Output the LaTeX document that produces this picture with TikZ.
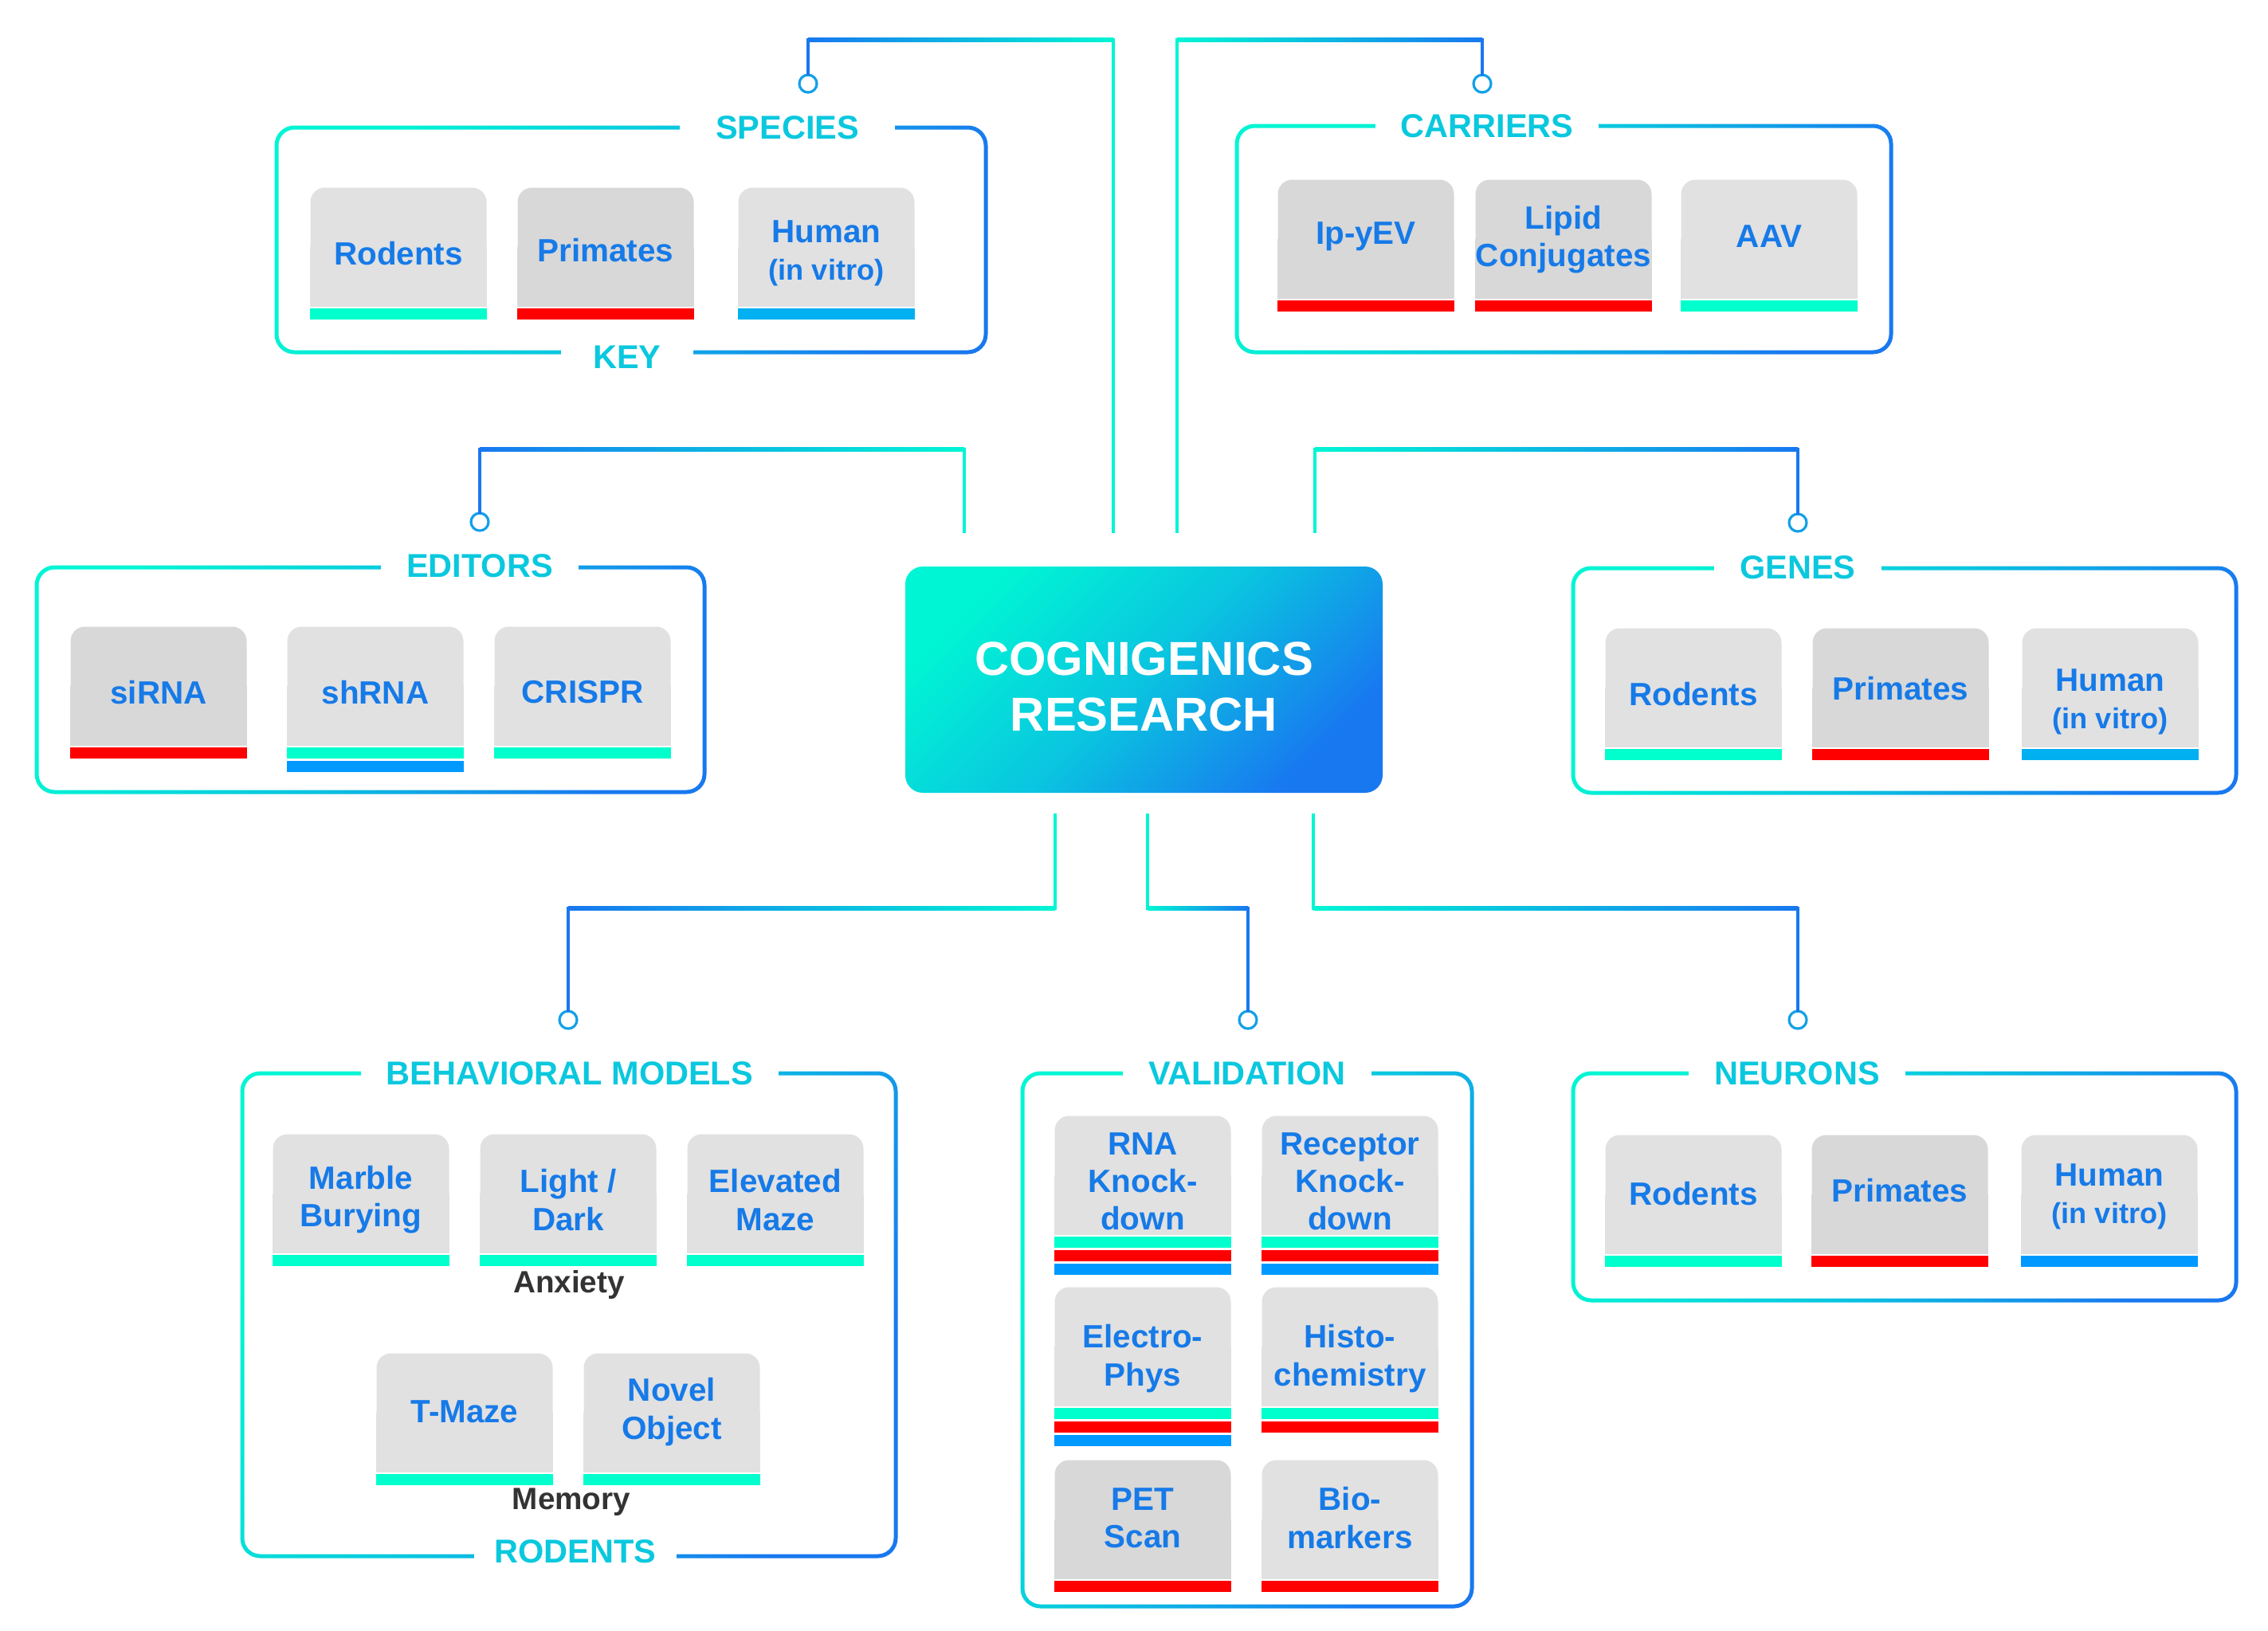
\documentclass[tikz,border=0pt]{standalone}
\usepackage{fontspec}
\setmainfont{Liberation Sans}
\usepackage{xcolor}

\definecolor{cgteal}{RGB}{0,245,212}
\definecolor{cgblue}{RGB}{24,120,240}
\definecolor{cgcyan}{RGB}{10,196,224}
\definecolor{cgring}{RGB}{18,160,232}
\definecolor{cgink}{RGB}{22,122,232}
\definecolor{cgtitle}{RGB}{10,200,222}
\definecolor{cgnote}{RGB}{51,51,51}
\definecolor{tilelight}{RGB}{225,225,225}
\definecolor{tiledark}{RGB}{216,216,216}
\definecolor{barrod}{RGB}{0,255,204}
\definecolor{barpri}{RGB}{255,0,0}
\definecolor{barhum}{RGB}{0,176,240}
\definecolor{barvit}{RGB}{0,153,255}

\tikzset{
  hub/.style={rounded corners=0.22cm, minimum width=5.99cm, minimum height=2.84cm,
    top color=cgteal, bottom color=cgblue, middle color=cgcyan, shading angle=45},
  hubtext/.style={text=white, align=center, font=\fontsize{17}{20}\selectfont\bfseries},
  tile/.style={rounded corners=0.18cm, minimum width=2.21cm, minimum height=1.49cm, inner sep=0pt},
  tiletext/.style={inner sep=0pt, text=cgink, align=center, font=\fontsize{11.5}{13.4}\selectfont\bfseries},
  boxtitle/.style={fill=white, text=cgtitle, inner xsep=0.32cm, inner ysep=2pt,
    font=\fontsize{11.8}{14}\selectfont\bfseries},
  note/.style={text=cgnote, font=\fontsize{11}{13}\selectfont\bfseries},
  knob/.style={circle, draw=cgring, fill=white, line width=0.9pt, minimum size=0.22cm, inner sep=0pt},
  wire/.style={line width=1.3pt, line cap=rect}
}

% grey card, square bottom corners; optional #1 moves the label
\newcommand{\cgtile}[5][-0.08cm]{%
  \node[tile, fill=#4] (#2) at (#3) {};
  \fill[#4] (#2.south west) rectangle (#2.east);
  \node[tiletext] (#2txt) at ([yshift=#1]#2.center) {#5};}

% coloured bar under a card, #2 = row (0,1,2)
\newcommand{\cgstripe}[3]{%
  \fill[#3] ([yshift={-0.02cm-#2*0.17cm}]#1.south west) rectangle ([yshift={-0.16cm-#2*0.17cm}]#1.south east);}

% rounded frame with a shaded outline
\newcommand{\groupframe}[4]{%
  \shade[even odd rule, top color=cgteal, bottom color=cgblue, middle color=cgcyan, shading angle=60]
    [rounded corners=0.25cm] (#1-0.025,#2+0.025) rectangle (#3+0.025,#4-0.025)
    [rounded corners=0.2cm] (#1+0.025,#2-0.025) rectangle (#3-0.025,#4+0.025);}

% hub -> knee -> knee -> knob
\newcommand{\cgwire}[6]{%
  \draw[wire, cgteal] (#1) -- (#2);
  \shade[left color=#5, right color=#6] ([yshift=0.65pt]#2) rectangle ([yshift=-0.65pt]#3);
  \draw[wire, cgblue] (#3) -- (#4.north);}

\begin{document}
\begin{tikzpicture}
\useasboundingbox (0,0) rectangle (28.46,-20.46);

% frames
\groupframe{3.47}{-1.60}{12.37}{-4.42}
\groupframe{15.52}{-1.58}{23.73}{-4.42}
\groupframe{0.46}{-7.12}{8.84}{-9.94}
\groupframe{19.74}{-7.13}{28.06}{-9.95}
\groupframe{3.04}{-13.47}{11.24}{-19.53}
\groupframe{12.83}{-13.47}{18.47}{-20.16}
\groupframe{19.74}{-13.47}{28.06}{-16.32}

\node[boxtitle, inner xsep=0.45cm] (species) at (9.88,-1.60) {SPECIES};
\node[boxtitle, inner xsep=0.40cm] (key) at (7.87,-4.48) {KEY};
\node[boxtitle] (carriers) at (18.66,-1.58) {CARRIERS};
\node[boxtitle] (editors) at (6.02,-7.10) {EDITORS};
\node[boxtitle] (genes) at (22.56,-7.12) {GENES};
\node[boxtitle] (behav) at (7.15,-13.47) {BEHAVIORAL MODELS};
\node[boxtitle, inner xsep=0.26cm] (rodents) at (7.22,-19.47) {RODENTS};
\node[boxtitle] (valid) at (15.65,-13.47) {VALIDATION};
\node[boxtitle] (neurons) at (22.55,-13.47) {NEURONS};

% species
\cgtile{spRod}{5.00,-3.10}{tilelight}{Rodents}
\cgtile[-0.04cm]{spPri}{7.60,-3.10}{tiledark}{Primates}
\cgtile{spHum}{10.37,-3.10}{tilelight}{Human\\{\fontsize{10.3}{13.4}\selectfont (in vitro)}}
\cgstripe{spRod}{0}{barrod}
\cgstripe{spPri}{0}{barpri}
\cgstripe{spHum}{0}{barhum}

% carriers
\cgtile[0.03cm]{caIp}{17.14,-3.00}{tiledark}{Ip-yEV}
\cgtile[-0.01cm]{caLip}{19.62,-3.00}{tiledark}{Lipid\\Conjugates}
\cgtile[0.03cm]{caAav}{22.20,-3.00}{tilelight}{AAV}
\cgstripe{caIp}{0}{barpri}
\cgstripe{caLip}{0}{barpri}
\cgstripe{caAav}{0}{barrod}

% editors
\cgtile{edSi}{1.99,-8.61}{tiledark}{siRNA}
\cgtile{edSh}{4.71,-8.61}{tilelight}{shRNA}
\cgtile{edCr}{7.31,-8.61}{tilelight}{CRISPR}
\cgstripe{edSi}{0}{barpri}
\cgstripe{edSh}{0}{barrod}
\cgstripe{edSh}{1}{barvit}
\cgstripe{edCr}{0}{barrod}

% genes
\cgtile{geRod}{21.25,-8.63}{tilelight}{Rodents}
\cgtile[-0.01cm]{gePri}{23.85,-8.63}{tiledark}{Primates}
\cgtile[-0.18cm]{geHum}{26.48,-8.63}{tilelight}{Human\\{\fontsize{10.3}{13.4}\selectfont (in vitro)}}
\cgstripe{geRod}{0}{barrod}
\cgstripe{gePri}{0}{barpri}
\cgstripe{geHum}{0}{barhum}

% behavioral models
\cgtile{beMar}{4.53,-14.98}{tilelight}{Marble\\Burying}
\cgtile{beLig}{7.13,-14.98}{tilelight}{Light /\\Dark}
\cgtile{beEle}{9.73,-14.98}{tilelight}{Elevated\\Maze}
\cgtile[0.01cm]{beTm}{5.83,-17.73}{tilelight}{T-Maze}
\cgtile[0.01cm]{beNov}{8.43,-17.73}{tilelight}{Novel\\Object}
\cgstripe{beMar}{0}{barrod}
\cgstripe{beLig}{0}{barrod}
\cgstripe{beEle}{0}{barrod}
\cgstripe{beTm}{0}{barrod}
\cgstripe{beNov}{0}{barrod}
\node[note] (anxiety) at (7.14,-16.12) {Anxiety};
\node[note] (memory) at (7.17,-18.85) {Memory};

% validation
\cgtile{vaRna}{14.34,-14.75}{tilelight}{RNA\\Knock-\\down}
\cgtile{vaRec}{16.94,-14.75}{tilelight}{Receptor\\Knock-\\down}
\cgtile[-0.15cm]{vaEle}{14.34,-16.90}{tilelight}{Electro-\\Phys}
\cgtile[-0.15cm]{vaHis}{16.94,-16.90}{tilelight}{Histo-\\chemistry}
\cgtile[0.02cm]{vaPet}{14.34,-19.07}{tiledark}{PET\\Scan}
\cgtile[0.02cm]{vaBio}{16.94,-19.07}{tilelight}{Bio-\\markers}
\cgstripe{vaRna}{0}{barrod}
\cgstripe{vaRna}{1}{barpri}
\cgstripe{vaRna}{2}{barvit}
\cgstripe{vaRec}{0}{barrod}
\cgstripe{vaRec}{1}{barpri}
\cgstripe{vaRec}{2}{barvit}
\cgstripe{vaEle}{0}{barrod}
\cgstripe{vaEle}{1}{barpri}
\cgstripe{vaEle}{2}{barvit}
\cgstripe{vaHis}{0}{barrod}
\cgstripe{vaHis}{1}{barpri}
\cgstripe{vaPet}{0}{barpri}
\cgstripe{vaBio}{0}{barpri}

% neurons
\cgtile[0.01cm]{neRod}{21.25,-14.99}{tilelight}{Rodents}
\cgtile[0.05cm]{nePri}{23.84,-14.99}{tiledark}{Primates}
\cgtile[-0.03cm]{neHum}{26.47,-14.99}{tilelight}{Human\\{\fontsize{10.3}{13.4}\selectfont (in vitro)}}
\cgstripe{neRod}{0}{barrod}
\cgstripe{nePri}{0}{barpri}
\cgstripe{neHum}{0}{barvit}

% centre
\node[hub] (hub) at (14.355,-8.53) {};
\node[hubtext] (hubtxt) at ([yshift=-0.09cm]hub.center) {COGNIGENICS\\RESEARCH};

% wiring
\coordinate (spFoot) at (13.97,-6.67);
\coordinate (spK1) at (13.97,-0.50);
\coordinate (spK2) at (10.14,-0.50);
\coordinate (caFoot) at (14.77,-6.67);
\coordinate (caK1) at (14.77,-0.50);
\coordinate (caK2) at (18.60,-0.50);
\coordinate (edFoot) at (12.10,-6.67);
\coordinate (edK1) at (12.10,-5.64);
\coordinate (edK2) at (6.02,-5.64);
\coordinate (geFoot) at (16.50,-6.67);
\coordinate (geK1) at (16.50,-5.64);
\coordinate (geK2) at (22.56,-5.64);
\coordinate (beFoot) at (13.24,-10.23);
\coordinate (beK1) at (13.24,-11.40);
\coordinate (beK2) at (7.13,-11.40);
\coordinate (vaFoot) at (14.40,-10.23);
\coordinate (vaK1) at (14.40,-11.40);
\coordinate (vaK2) at (15.66,-11.40);
\coordinate (neFoot) at (16.48,-10.23);
\coordinate (neK1) at (16.48,-11.40);
\coordinate (neK2) at (22.56,-11.40);

\node[knob] (spDot) at (10.14,-1.05) {};
\node[knob] (caDot) at (18.60,-1.05) {};
\node[knob] (edDot) at (6.02,-6.55) {};
\node[knob] (geDot) at (22.56,-6.56) {};
\node[knob] (beDot) at (7.13,-12.80) {};
\node[knob] (vaDot) at (15.66,-12.80) {};
\node[knob] (neDot) at (22.56,-12.80) {};

\cgwire{spFoot}{spK1}{spK2}{spDot}{cgblue}{cgteal}
\cgwire{caFoot}{caK1}{caK2}{caDot}{cgteal}{cgblue}
\cgwire{edFoot}{edK1}{edK2}{edDot}{cgblue}{cgteal}
\cgwire{geFoot}{geK1}{geK2}{geDot}{cgteal}{cgblue}
\cgwire{beFoot}{beK1}{beK2}{beDot}{cgblue}{cgteal}
\cgwire{vaFoot}{vaK1}{vaK2}{vaDot}{cgteal}{cgblue}
\cgwire{neFoot}{neK1}{neK2}{neDot}{cgteal}{cgblue}
\end{tikzpicture}
\end{document}
